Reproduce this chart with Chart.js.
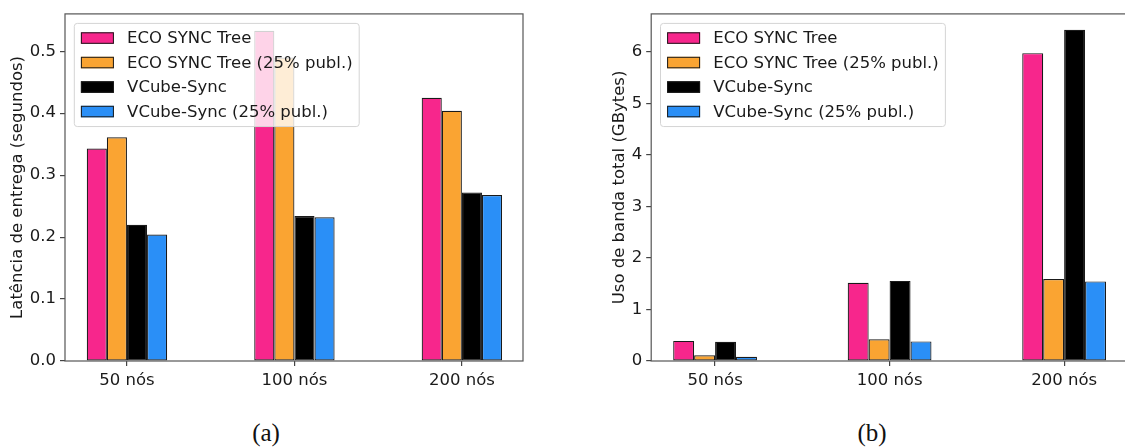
<!DOCTYPE html>
<html>
<head>
<meta charset="utf-8">
<script src="https://cdn.jsdelivr.net/npm/chart.js@4.4.0/dist/chart.umd.min.js"></script>
<style>
    html, body { margin: 0; padding: 0; background: #fff; overflow: hidden; width: 1125px; height: 448px; }
    .panel { position: absolute; top: 0; height: 400px; }
    #left { left: 0; width: 535px; }
    #right { left: 560px; width: 570px; }
    .cap { position: absolute; font-family: "Liberation Serif", "DejaVu Serif", serif; font-size: 25px; color: #111; transform: translate(-50%, -50%); }
</style>
</head>
<body>
<div class="panel" id="left"><canvas id="latChart"></canvas></div>
<div class="panel" id="right"><canvas id="bwChart"></canvas></div>
<div class="cap" style="left:266px; top:433px">(a)</div>
<div class="cap" style="left:872px; top:433px">(b)</div>
<script>
const categories = ['50 nós', '100 nós', '200 nós'];
const seriesNames = ['ECO SYNC Tree', 'ECO SYNC Tree (25% publ.)', 'VCube-Sync', 'VCube-Sync (25% publ.)'];
const seriesColors = ['#F7268C', '#FAA432', '#000000', '#2A8FF7'];

// (a) latência de entrega (segundos)
const latEco = [0.343, 0.533, 0.425];
const latEco25 = [0.361, 0.490, 0.404];
const latVcube = [0.220, 0.234, 0.272];
const latVcube25 = [0.204, 0.232, 0.268];
const latTicks = [0, 0.1, 0.2, 0.3, 0.4, 0.5];

// (b) uso de banda total (GBytes)
const bwEco = [0.39, 1.52, 5.975];
const bwEco25 = [0.11, 0.42, 1.59];
const bwVcube = [0.375, 1.555, 6.43];
const bwVcube25 = [0.083, 0.38, 1.545];
const bwTicks = [0, 1, 2, 3, 4, 5, 6];

const FONT = '"DejaVu Sans", sans-serif';
const FS = 16.5;
const TEXT = '#1a1a1a';
Chart.defaults.font.family = FONT;
Chart.defaults.font.size = FS;
Chart.defaults.color = TEXT;

// matplotlib-like frame, legend (over the bars) and y title
const mplDecor = {
    id: 'mplDecor',
    afterDatasetsDraw(chart, args, opts) {
        const { ctx, chartArea: a } = chart;
        ctx.save();
        ctx.strokeStyle = '#555';
        ctx.lineWidth = 1.2;
        ctx.strokeRect(a.left, a.top, a.right - a.left, a.bottom - a.top);

        // legend
        ctx.font = FS + 'px ' + FONT;
        const pad = 0.4 * FS, handleW = 2 * FS, gap = 0.8 * FS, pitch = 24.5;
        let maxW = 0;
        seriesNames.forEach(n => { maxW = Math.max(maxW, ctx.measureText(n).width); });
        const bx = a.left + 9.3, by = a.top + 9.5;
        const bw = pad * 2 + handleW + gap + maxW;
        const bh = pad * 2 + 16.3 * 4 + 0.5 * FS * 3;
        ctx.beginPath();
        ctx.roundRect(bx, by, bw, bh, 3);
        ctx.fillStyle = 'rgba(255,255,255,0.8)';
        ctx.fill();
        ctx.strokeStyle = '#d4d4d4';
        ctx.lineWidth = 1;
        ctx.stroke();
        seriesNames.forEach((n, k) => {
            const cy = by + pad + 8.1 + k * pitch;
            ctx.fillStyle = seriesColors[k];
            ctx.fillRect(bx + pad, cy - 5.8, handleW, 11.5);
            ctx.strokeStyle = '#1a1a1a';
            ctx.strokeRect(bx + pad + 0.5, cy - 5.3, handleW - 1, 10.5);
            ctx.fillStyle = TEXT;
            ctx.textAlign = 'left';
            ctx.textBaseline = 'middle';
            ctx.fillText(n, bx + pad + handleW + gap, cy + 1);
        });

        // y axis title
        ctx.translate(opts.titleX, (a.top + a.bottom) / 2);
        ctx.rotate(-Math.PI / 2);
        ctx.textAlign = 'center';
        ctx.textBaseline = 'middle';
        ctx.fillStyle = TEXT;
        ctx.fillText(opts.title, 0, 0);
        ctx.restore();
    }
};

function makeChart(canvasId, values, yTicks, yMax, fmt, layout) {
    const datasets = seriesNames.map((name, k) => ({
        label: name,
        data: values[k].map((v, i) => ({ x: i, y: v })),
        backgroundColor: seriesColors[k],
        borderColor: '#1a1a1a',
        borderWidth: 1.2,
        borderSkipped: false,
        categoryPercentage: 0.48,
        barPercentage: 1
    }));
    const tickGrid = { offset: false, drawOnChartArea: false, drawTicks: true, tickLength: 5, color: '#444', lineWidth: 1.2 };
    return new Chart(document.getElementById(canvasId), {
        type: 'bar',
        data: { datasets },
        plugins: [mplDecor],
        options: {
            animation: false,
            responsive: true,
            maintainAspectRatio: false,
            events: [],
            layout: { padding: { top: 8, right: layout.padRight, left: 0, bottom: 0 } },
            plugins: {
                legend: { display: false },
                tooltip: { enabled: false },
                mplDecor: { title: layout.title, titleX: layout.titleX }
            },
            scales: {
                x: {
                    type: 'linear',
                    min: layout.xMin,
                    max: layout.xMax,
                    offset: false,
                    afterBuildTicks: s => { s.ticks = categories.map((c, i) => ({ value: i })); },
                    afterFit: s => { s.height = 39; },
                    grid: tickGrid,
                    border: { display: false },
                    ticks: { callback: v => categories[v], padding: 5, maxRotation: 0, autoSkip: false }
                },
                y: {
                    min: 0,
                    max: yMax,
                    afterBuildTicks: s => { s.ticks = yTicks.map(v => ({ value: v })); },
                    afterFit: s => { s.width = layout.axisWidth; },
                    grid: tickGrid,
                    border: { display: false },
                    ticks: { callback: fmt, padding: 4 }
                }
            }
        }
    });
}

makeChart('latChart', [latEco, latEco25, latVcube, latVcube25], latTicks, 0.5603, v => v.toFixed(1), {
    padRight: 12, axisWidth: 65, xMin: -0.37, xMax: 2.365, titleX: 18,
    title: 'Latência de entrega (segundos)'
});

makeChart('bwChart', [bwEco, bwEco25, bwVcube, bwVcube25], bwTicks, 6.737, v => String(v), {
    padRight: 2, axisWidth: 91.2, xMin: -0.366, xMax: 2.366, titleX: 59.5,
    title: 'Uso de banda total (GBytes)'
});
</script>
</body>
</html>
